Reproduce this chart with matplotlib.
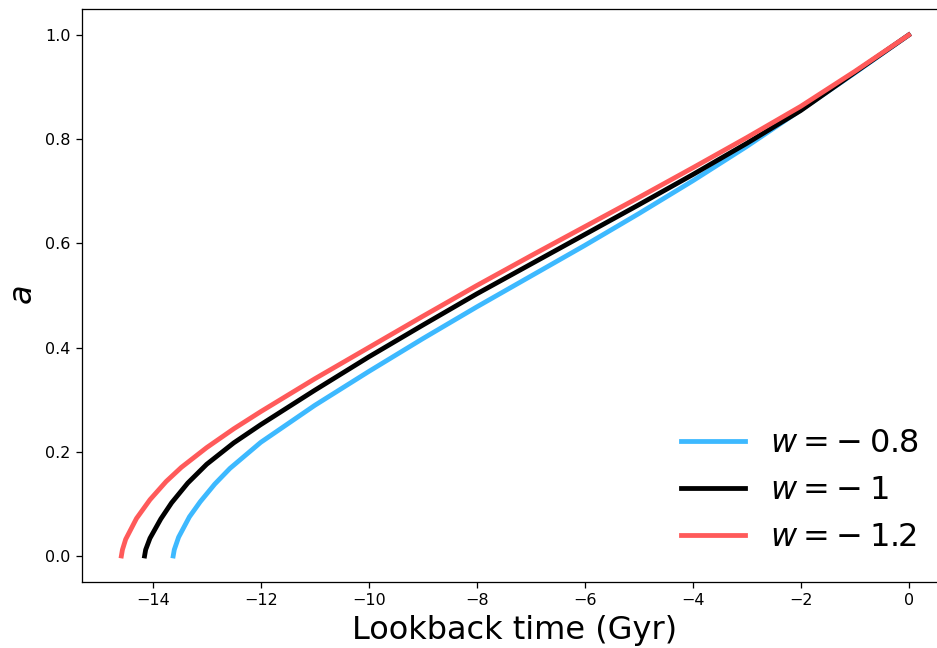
import matplotlib
matplotlib.use("Agg")
import matplotlib.pyplot as plt

# values
# w = -0.8
t_w08 = [-13.62, -13.60, -13.52, -13.32, -13.12, -12.85, -12.57, -12.0, -11.0,
         -10.0, -9.0, -8.0, -7.0, -6.0, -5.0, -4.0, -3.0, -2.0, -1.0, 0.0]
a_w08 = [0.0, 0.012, 0.036, 0.075, 0.104, 0.138, 0.168, 0.218, 0.289,
         0.354, 0.417, 0.478, 0.537, 0.596, 0.657, 0.720, 0.786, 0.856, 0.927, 1.0]

# w = -1
t_w10 = [-14.15, -14.13, -14.05, -13.85, -13.65, -13.35, -13.0, -12.5, -12.0, -11.0,
         -10.0, -9.0, -8.0, -7.0, -6.0, -5.0, -4.0, -3.0, -2.0, -1.0, 0.0]
a_w10 = [0.0, 0.012, 0.034, 0.071, 0.102, 0.140, 0.176, 0.217, 0.252, 0.318,
         0.382, 0.443, 0.503, 0.560, 0.617, 0.674, 0.732, 0.792, 0.855, 0.928, 1.0]

# w = -1.2
t_w12 = [-14.58, -14.56, -14.50, -14.30, -14.05, -13.75, -13.47, -13.0, -12.5, -12.0,
         -11.0, -10.0, -9.0, -8.0, -7.0, -6.0, -5.0, -4.0, -3.0, -2.0, -1.0, 0.0]
a_w12 = [0.0, 0.012, 0.032, 0.072, 0.108, 0.143, 0.170, 0.208, 0.244, 0.277,
         0.340, 0.400, 0.460, 0.519, 0.576, 0.632, 0.688, 0.745, 0.803, 0.863, 0.930, 1.0]

labels = [r"$w=-\:0.8$", r"$w=-\:1$", r"$w=-\:1.2$"]
colors = ["#3db9ff", "black", "#ff5a5a"]

fig = plt.figure(figsize=(937 / 115, 648 / 115), dpi=115)
ax = fig.add_axes([82 / 937, 66 / 648, 866 / 937, 573 / 648])

ax.plot(t_w08, a_w08, color=colors[0], lw=3, label=labels[0])
ax.plot(t_w10, a_w10, color=colors[1], lw=3, label=labels[1])
ax.plot(t_w12, a_w12, color=colors[2], lw=3, label=labels[2])

ax.set_xlabel("Lookback time (Gyr)", fontsize=20)
ax.set_ylabel("$a$", fontsize=20)
ax.tick_params(labelsize=10)
ax.legend(loc="lower right", fontsize=20, frameon=False)

fig.savefig("out.png", dpi=115)
